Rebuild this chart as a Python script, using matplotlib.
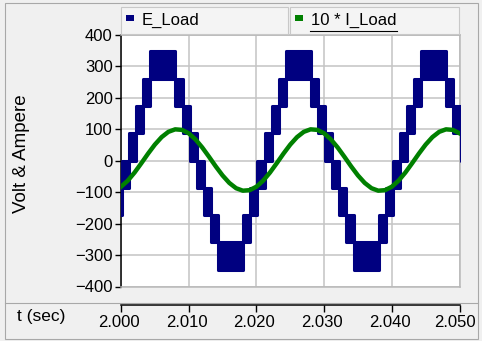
import numpy as np
import matplotlib
matplotlib.use("Agg")
import matplotlib.pyplot as plt
import matplotlib.transforms as mtransforms
from matplotlib.patches import Rectangle
from matplotlib.lines import Line2D

plt.rcParams['font.family'] = ['Liberation Sans', 'DejaVu Sans']

# --- data ---
t_start = 2.000
t_end = 2.050
x_ticks = [2.000, 2.010, 2.020, 2.030, 2.040, 2.050]
x_ticklabels = ['2.000', '2.010', '2.020', '2.030', '2.040', '2.050']
y_ticks = [-400, -300, -200, -100, 0, 100, 200, 300, 400]

# multilevel inverter voltage: switching bands between adjacent levels
e_levels = [0, 87, 173, 260, 347]
pos_peaks = [2.0062, 2.0262, 2.0462]
neg_peaks = [1.9962, 2.0162, 2.0362, 2.0562]
band_edges_ms = [1.85, 2.9, 3.95, 5.0]   # offset from a peak where the band changes

# 10 * load current, sampled every 1 ms from 2.000 s
i_time = [2.000 + 0.001 * k for k in range(51)]
i_load10 = [-82.9, -63.6, -37.9, -8.3, 22.4, 51.0, 74.8, 91.6, 99.5, 97.8,
            86.9, 67.6, 41.9, 12.3, -18.4, -47.0, -70.8, -87.6, -95.5, -93.8,
            -82.9, -63.6, -37.9, -8.3, 22.4, 51.0, 74.8, 91.6, 99.5, 97.8,
            86.9, 67.6, 41.9, 12.3, -18.4, -47.0, -70.8, -87.6, -95.5, -93.8,
            -82.9, -63.6, -37.9, -8.3, 22.4, 51.0, 74.8, 91.6, 99.5, 97.8,
            86.9]

labels = ['E_Load', '10 * I_Load']
colors = ['#000080', '#008000']

W, H = 482, 341


def fx(x):
    return x / W


def fy(y):
    return 1 - y / H


fig = plt.figure(figsize=(W / 100, H / 100), dpi=100)
fig.patch.set_facecolor('#f0f0f0')

# outer frame and separator
fig.add_artist(Rectangle((fx(5), fy(339)), fx(473), 336 / H, transform=fig.transFigure,
                         fill=False, edgecolor='#a8a8a8', lw=0.8))
fig.add_artist(Line2D([fx(5), fx(478)], [fy(303), fy(303)], transform=fig.transFigure,
                      color='#a8a8a8', lw=0.8))

ax = fig.add_axes([fx(121), fy(286.5), fx(459.5 - 121), (286.5 - 34.8) / H])
ax.set_facecolor('white')

# voltage bands
bands = []
for peaks, s in ((pos_peaks, 1), (neg_peaks, -1)):
    for p in peaks:
        e0 = band_edges_ms[0] / 1000
        bands.append((p - e0, p + e0, s * e_levels[3], s * e_levels[4]))
        for i in range(1, 4):
            a = band_edges_ms[i - 1] / 1000
            b = band_edges_ms[i] / 1000
            lo, hi = s * e_levels[3 - i], s * e_levels[4 - i]
            bands.append((p + a, p + b, lo, hi))
            bands.append((p - b, p - a, lo, hi))
for a, b, lo, hi in bands:
    ax.fill_between([a, b], [lo, lo], [hi, hi], color=colors[0], lw=2.2, zorder=3)

ax.plot(i_time, i_load10, color=colors[1], lw=3.2, zorder=4)

ax.set_xlim(t_start, t_end)
ax.set_ylim(-400, 400)
ax.set_xticks(x_ticks)
ax.set_yticks(y_ticks)
ax.tick_params(axis='x', length=0, labelbottom=False)
ax.tick_params(axis='y', direction='out', length=4, width=1, pad=2, labelsize=12)
ax.grid(True, color='#c4c4c4', lw=1.1)
ax.set_axisbelow(True)
for side in ('top', 'right', 'bottom'):
    ax.spines[side].set_color('#b8b8b8')
    ax.spines[side].set_linewidth(1.1)
ax.spines['left'].set_color('black')
ax.spines['left'].set_linewidth(1.1)

fig.text(fx(22), fy(154), 'Volt & Ampere', rotation=90, ha='center', va='center', fontsize=13.5)

# separate time ruler under the plot
axt = fig.add_axes([fx(121), fy(305), fx(459.5 - 121), 0.0001])
axt.set_xlim(t_start, t_end)
axt.set_xticks(x_ticks)
axt.set_xticklabels(x_ticklabels)
axt.set_yticks([])
axt.patch.set_visible(False)
for side in ('top', 'right', 'left'):
    axt.spines[side].set_visible(False)
axt.spines['bottom'].set_linewidth(1.1)
axt.tick_params(axis='x', direction='out', length=5, width=1, pad=2, labelsize=12)
for k, lab in enumerate(axt.get_xticklabels()):
    dx = -5 if k == len(x_ticks) - 1 else -2
    lab.set_transform(lab.get_transform() +
                      mtransforms.ScaledTranslation(dx / 100, 0, fig.dpi_scale_trans))
fig.text(fx(17), fy(317), 't (sec)', ha='left', va='center', fontsize=12.5)

# legend strip
boxes = [(121, 288), (290, 459)]
for (x0, x1), lab, col in zip(boxes, labels, colors):
    fig.add_artist(Rectangle((fx(x0), fy(33.5)), fx(x1 - x0), 26.5 / H,
                             transform=fig.transFigure, facecolor='#f4f4f4',
                             edgecolor='#c8c8c8', lw=0.8))
    fig.add_artist(Rectangle((fx(x0 + 5), fy(21)), fx(8), 6 / H,
                             transform=fig.transFigure, facecolor=col, edgecolor='none'))
    fig.text(fx(x0 + 21), fy(20), lab, ha='left', va='center', fontsize=12)
fig.add_artist(Line2D([fx(310), fx(397)], [fy(30.5), fy(30.5)], transform=fig.transFigure,
                      color='black', lw=0.8))

fig.savefig('out.png', dpi=100, facecolor=fig.get_facecolor())
